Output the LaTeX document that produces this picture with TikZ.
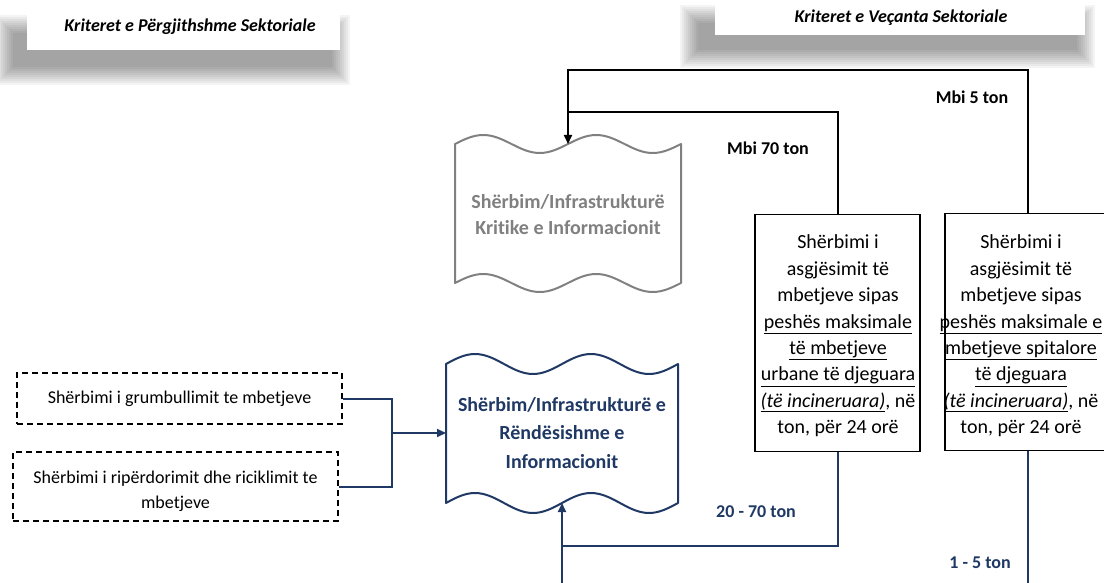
\documentclass[tikz,border=0pt]{standalone}
\usepackage{fontspec}
\setmainfont{Carlito}[Ligatures=NoCommon]
\usetikzlibrary{arrows.meta}
\definecolor{navy}{RGB}{31,56,100}
\definecolor{tapegrey}{RGB}{128,128,128}
\newcommand{\softshadow}[4]{%
  \foreach \k in {0,...,9}{%
    \fill[black,opacity=0.045] ({#1+2*\k},{#2+2*\k}) rectangle ({#3-2*\k},{#4-2*\k});}}
\begin{document}
\begin{tikzpicture}[x=1pt,y=-1pt,
  tip/.style={-{Triangle[length=9pt,width=8pt]}},
  blk/.style={line width=2pt,draw=black},
  nv/.style={line width=2pt,draw=navy},
  critbox/.style={draw=black,line width=1.5pt,minimum width=165pt,minimum height=237pt,inner sep=0pt},
  boxtext/.style={align=center,font=\fontsize{20}{26.4}\selectfont,inner sep=0pt},
  dbox/.style={draw=black,dash pattern=on 6pt off 4pt,line width=1.5pt,inner sep=0pt,align=center,font=\fontsize{18}{25}\selectfont},
  dtext/.style={align=center,font=\fontsize{18}{25}\selectfont,inner sep=0pt},
  lbl/.style={font=\bfseries\fontsize{18}{20}\selectfont,inner sep=2pt,fill=white},
  titletext/.style={font=\bfseries\itshape\fontsize{18}{20}\selectfont,inner sep=0pt}
]
\useasboundingbox (0,0) rectangle (1104,583);
\clip (0,0) rectangle (1104,583);

% title shadows and boxes
\softshadow{-5}{15}{350}{85}
\fill[white] (27,-5) rectangle (340,50);
\node[titletext] (ti1) at (190,27) {Kriteret e Përgjithshme Sektoriale};
\softshadow{680}{5}{1095}{68}
\fill[white] (715,-5) rectangle (1085,35);
\node[titletext] (ti2) at (901,18) {Kriteret e Veçanta Sektoriale};

% grey tape (critical)
\draw[tapegrey,line width=2pt,line join=round]
  (455,144) sin ++(28.25,-9) cos ++(28.25,9) sin ++(28.25,9) cos ++(28.25,-9)
            sin ++(28.25,-9) cos ++(28.25,9) sin ++(28.25,9) cos ++(28.25,-9)
  -- (681,283) sin ++(-28.25,9) cos ++(-28.25,-9) sin ++(-28.25,-9) cos ++(-28.25,9)
            sin ++(-28.25,9) cos ++(-28.25,-9) sin ++(-28.25,-9) cos ++(-28.25,9)
  -- cycle;
\coordinate (gtop) at (568,144);
\node[font=\bfseries\fontsize{20}{26}\selectfont,text=tapegrey,align=center,inner sep=0pt] (gtext) at (568,215)
  {Shërbim/Infrastrukturë\\Kritike e Informacionit};

% blue tape (important)
\draw[navy,line width=2pt,line join=round]
  (446,364) sin ++(29,-10) cos ++(29,10) sin ++(29,10) cos ++(29,-10)
            sin ++(29,-10) cos ++(29,10) sin ++(29,10) cos ++(29,-10)
  -- (678,503) sin ++(-29,10) cos ++(-29,-10) sin ++(-29,-10) cos ++(-29,10)
            sin ++(-29,10) cos ++(-29,-10) sin ++(-29,-10) cos ++(-29,10)
  -- cycle;
\coordinate (bbot) at (562,503);
\coordinate (bleft) at (446,433);
\node[font=\bfseries\fontsize{20}{28.5}\selectfont,text=navy,align=center,inner sep=0pt] (btext) at (562,433)
  {Shërbim/Infrastrukturë e\\Rëndësishme e\\Informacionit};

% criteria boxes
\node[critbox] (c1) at (837.5,333) {};
\node[boxtext] (t1) at (838,336) {Shërbimi i\\asgjësimit të\\mbetjeve sipas\\\underline{peshës maksimale}\\\underline{të mbetjeve}\\\underline{urbane të djeguara}\\\underline{\textit{(të incineruara)}}, në\\ton, për 24 orë};
\node[critbox] (c2) at (1027.5,332) {};
\node[boxtext] (t2) at (1021,336) {Shërbimi i\\asgjësimit të\\mbetjeve sipas\\\underline{peshës maksimale e}\\\underline{mbetjeve spitalore}\\\underline{të djeguara}\\\underline{\textit{(të incineruara)}}, në\\ton, për 24 orë};

% dashed service boxes
\node[dbox,minimum width=325pt,minimum height=51pt] (dA) at (179.5,398.5) {Shërbimi i grumbullimit te mbetjeve};
\node[dbox,minimum width=325pt,minimum height=69pt] (dB) at (175.5,486.5) {};
\node[dtext] (tB) at (175.5,491) {Shërbimi i ripërdorimit dhe riciklimit te\\mbetjeve};

% helper coordinates
\coordinate (y70) at (0,70);
\coordinate (y112) at (0,112);
\coordinate (y546) at (0,546);
\coordinate (ybottom) at (0,600);
\coordinate (j) at (392,433);

% black connectors
\draw[blk,tip] (c2.north) |- (gtop |- y70) -- (gtop);
\draw[blk] (c1.north) |- (gtop |- y112);

% blue connectors
\draw[nv] (c1.south) |- (bbot |- y546);
\draw[nv,tip] (bbot |- ybottom) -- (bbot);
\draw[nv] (c2.south) -- (c2.south |- ybottom);
\draw[nv] (dA.east) -| (j) |- (dB.east);
\draw[nv,tip] (j) -- (bleft);

% labels
\node[lbl] (l1) at (972,97) {Mbi 5 ton};
\node[lbl] (l2) at (768,148) {Mbi 70 ton};
\node[lbl,text=navy] (l3) at (756,512) {20 - 70 ton};
\node[lbl,text=navy] (l4) at (980,563) {1 - 5 ton};
\end{tikzpicture}
\end{document}
